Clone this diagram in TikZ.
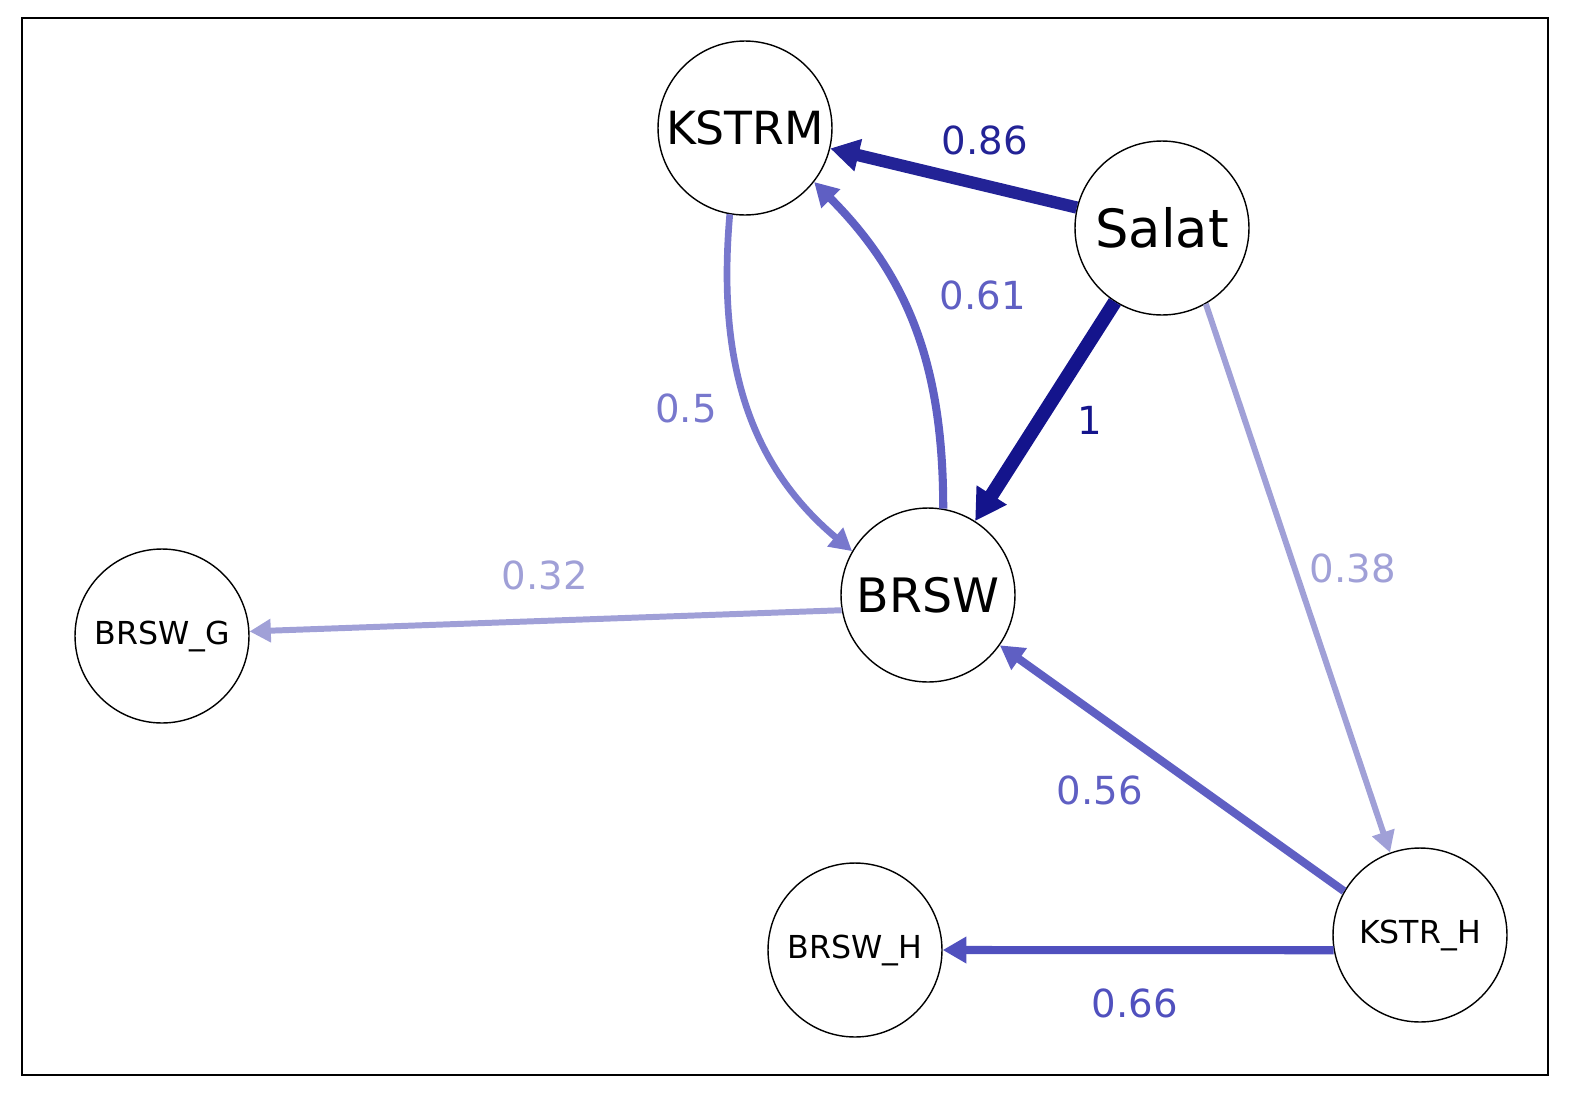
\documentclass[tikz,border=0pt]{standalone}
\usepackage{fontspec}
\setmainfont{DejaVu Sans}
\usetikzlibrary{arrows.meta}
\definecolor{wA}{RGB}{20,20,140}
\definecolor{wB}{RGB}{35,35,150}
\definecolor{wC}{RGB}{80,80,190}
\definecolor{wD}{RGB}{95,95,195}
\definecolor{wE}{RGB}{120,120,205}
\definecolor{wF}{RGB}{160,160,215}
\tikzset{
  var/.style={circle, draw, thick, minimum size=3.48cm, inner sep=0pt},
  edge/.style={-{Triangle[length=1.2*#1+8pt, width=1.4*#1+8pt]}, line width=#1},
  wlab/.style={font=\fontsize{22}{22}\selectfont}
}
\begin{document}
\begin{tikzpicture}[x=0.02cm, y=-0.02cm]
  % Frame
  \useasboundingbox (0,0) rectangle (1583,1106);
  \draw [line width=1.2pt] (22,18) rectangle (1548,1075);

  % Nodes
  \node [var, font=\fontsize{26}{26}\selectfont] (kstrm) at (745,128) {KSTRM};
  \node [var, font=\fontsize{30}{30}\selectfont] (salat) at (1162,228) {Salat};
  \node [var, font=\fontsize{27}{27}\selectfont] (brsw) at (928,595) {BRSW};
  \node [var, font=\fontsize{18}{18}\selectfont] (brswg) at (162,636) {BRSW\_G};
  \node [var, font=\fontsize{18}{18}\selectfont] (brswh) at (855,950) {BRSW\_H};
  \node [var, font=\fontsize{18}{18}\selectfont] (kstrh) at (1420,935) {KSTR\_H};

  % Edges
  \draw [edge=7pt, wB] (salat) -- (kstrm);
  \draw [edge=8pt, wA] (salat) -- (brsw);
  \draw [edge=3.8pt, wE] (kstrm.-100) to [out=-95, in=140] (brsw.150);
  \draw [edge=4.6pt, wD] (brsw.80) to [out=90, in=-45] (kstrm.-38);
  \draw [edge=3.4pt, wF] (salat.-60) -- (kstrh.110);
  \draw [edge=3.4pt, wF] (brsw.-170) -- (brswg.3);
  \draw [edge=4.6pt, wD] (kstrh.150) -- (brsw.-35);
  \draw [edge=4.6pt, wC] (kstrh.190) -- (brswh.east);

  % Weights
  \node [wlab, wB] (l86) at (985,140) {0.86};
  \node [wlab, wA] (l1) at (1090,420) {1};
  \node [wlab, wE] (l50) at (686,408) {0.5};
  \node [wlab, wD] (l61) at (983,295) {0.61};
  \node [wlab, wF] (l38) at (1353,568) {0.38};
  \node [wlab, wF] (l32) at (545,575) {0.32};
  \node [wlab, wD] (l56) at (1100,790) {0.56};
  \node [wlab, wC] (l66) at (1135,1003) {0.66};
\end{tikzpicture}
\end{document}
